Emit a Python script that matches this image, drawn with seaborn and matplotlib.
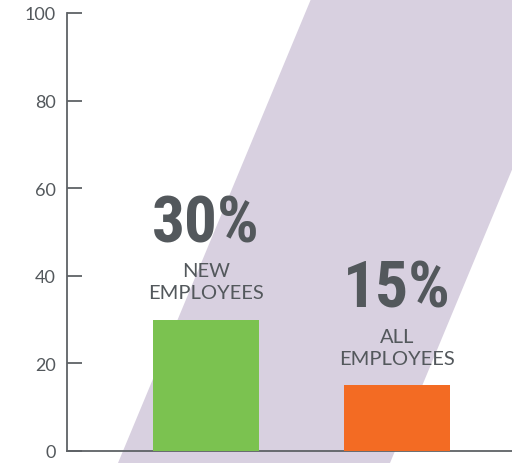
import os
import matplotlib
matplotlib.use("Agg")
import matplotlib.pyplot as plt
from matplotlib.patches import Polygon
from matplotlib import font_manager as fm
import seaborn as sns
import pandas as pd

categories = ["NEW\nEMPLOYEES", "ALL\nEMPLOYEES"]
values = [30, 15]
pct_labels = ["30%", "15%"]
colors = ["#7BC250", "#F36B23"]
yticks = [0, 20, 40, 60, 80, 100]

TEXT = "#53585C"
BAND = "#D8D0E0"

sns.set_theme(style="white")
plt.rcParams["font.family"] = ["Lato", "DejaVu Sans"]


def find_condensed_bold():
    prefs = ["liberation sans narrow", "robotocondensed", "roboto condensed",
             "dejavu sans condensed", "dejavusanscondensed", "condensedbold",
             "condensed", "narrow"]
    found = []
    for f in fm.fontManager.ttflist:
        n = (f.name + " " + os.path.basename(f.fname)).lower()
        if "italic" in n or "oblique" in n or f.style != "normal":
            continue
        if "extra" in n or "semi" in n or "ultra" in n:
            continue
        cond = ("condensed" in n or "narrow" in n or f.stretch in ("condensed",))
        bold = (f.weight in ("bold", 700) or "bold" in n) and "semibold" not in n and "extrabold" not in n
        if cond and bold:
            rank = next((k for k, p in enumerate(prefs) if p in n), 99)
            found.append((rank, f.fname))
    found.sort()
    return found[0][1] if found else None


cond_path = find_condensed_bold()

W, H = 512, 464
fig = plt.figure(figsize=(W / 100, H / 100), dpi=100)
ax = fig.add_axes([67 / W, 1 - 452 / H, 1 - 67 / W, (452 - 14) / H])
ax.set_facecolor("none")

# decorative diagonal band (figure pixels)
band_px = [(118, 464), (311, 0), (583, 0), (390, 464)]
band = Polygon([(x / W, 1 - y / H) for x, y in band_px], closed=True,
               transform=fig.transFigure, facecolor=BAND, edgecolor="none", zorder=-1)
fig.add_artist(band)

df = pd.DataFrame({"cat": categories, "val": values})
sns.barplot(data=df, x="cat", y="val", hue="cat", palette=colors, width=0.555,
            saturation=1, legend=False, ax=ax, zorder=3, linewidth=0)

ax.set_xlim(-0.728, 1.60)
ax.set_ylim(0, 100)
ax.set_yticks(yticks)
ax.set_xticks([])
ax.set_xlabel("")
ax.set_ylabel("")

for s in ["top", "right"]:
    ax.spines[s].set_visible(False)
for s in ["left", "bottom"]:
    ax.spines[s].set_color("#5E6266")
    ax.spines[s].set_linewidth(1.3)

ax.tick_params(axis="y", direction="in", length=11, width=1.3, color="#5E6266",
               pad=8, labelsize=13, labelcolor=TEXT, left=True)

if cond_path:
    big_fp = fm.FontProperties(fname=cond_path, size=47)
else:
    big_fp = fm.FontProperties(family="DejaVu Sans", weight="bold", stretch="condensed", size=42)

for i, (v, p, c) in enumerate(zip(values, pct_labels, categories)):
    ax.annotate(c, xy=(i, v), xytext=(0, 38), textcoords="offset pixels",
                ha="center", va="center", fontsize=14.5, color=TEXT,
                linespacing=1.38, zorder=4)
    ax.annotate(p, xy=(i, v), xytext=(0, 96), textcoords="offset pixels",
                ha="center", va="center", fontproperties=big_fp,
                color=TEXT, zorder=4)

fig.savefig("out.png", dpi=100)
